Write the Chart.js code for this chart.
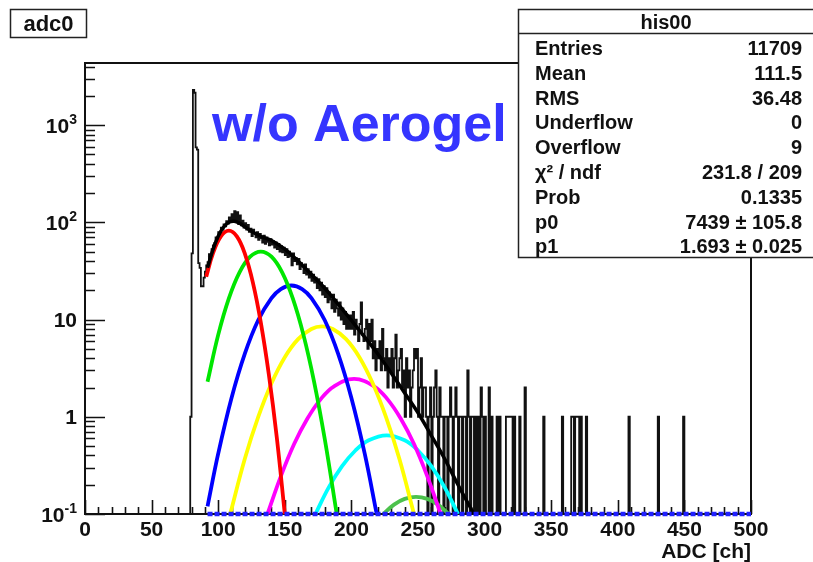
<!DOCTYPE html>
<html>
<head>
<meta charset="utf-8">
<title>adc0</title>
<script src="https://cdn.jsdelivr.net/npm/chart.js@4.4.0/dist/chart.umd.min.js"></script>
<style>
    body { margin: 0; background: #fff; }
    canvas { display: block; }
</style>
</head>
<body>
<canvas id="grafico-adc" width="813" height="562"></canvas>
<script>
// histogram, 1 ADC channel per bin, first bin = 76
const histFirstBin = 76;
const histCounts = [
    0, 0, 0, 0, 1, 48, 2300, 2150, 590, 560, 38, 34, 22, 22,
    27, 31, 36, 39, 47, 44, 53, 58, 61, 70,
    68, 79, 76, 88, 84, 95, 91, 103, 97, 112,
    104, 121, 108, 130, 101, 127, 96, 118, 93, 104,
    88, 98, 84, 94, 80, 86, 72, 84, 77, 70,
    79, 66, 76, 69, 62, 73, 60, 70, 63, 58,
    67, 59, 64, 55, 62, 53, 60, 50, 57, 49,
    55, 46, 53, 44, 50, 45, 36, 48, 40, 43,
    37, 42, 33, 38, 35, 30, 37, 29, 33, 27,
    31, 25, 29, 24, 27, 21, 26, 20, 24, 18,
    22, 17, 21, 15, 19, 16, 13, 18, 12, 16,
    13, 11, 15, 10, 13, 9, 12, 8, 11, 8,
    11, 8, 12, 7, 10, 8, 6, 9, 15, 7,
    6, 8, 10, 5, 9, 6, 10, 4, 6, 3,
    5, 4, 6, 3, 8, 4, 3, 5, 2, 4,
    3, 5, 2, 4, 7, 2, 3, 4, 5, 2,
    3, 1, 4, 2, 3, 1, 2, 3, 5, 4,
    5, 1, 2, 4, 1, 2, 2, 1, 0, 1,
    2, 0, 1, 2, 3, 1, 0, 2, 1, 1,
    0, 1, 1, 0, 1, 2, 1, 0, 1, 2,
    1, 0, 1, 1, 0, 1, 1, 0, 3, 1,
    0, 1, 1, 0, 1, 0, 1, 0, 2, 1
];
// sparse channels above 300
const tailBins = [301, 304, 306, 310, 312, 317, 318, 319, 320, 321, 323, 327, 331, 345, 359, 366, 367, 369, 370, 371, 373, 377, 409, 431, 450];
const tailCounts = [1, 2, 1, 1, 1, 1, 1, 1, 1, 1, 1, 1, 2, 1, 1, 1, 1, 1, 1, 1, 1, 1, 1, 1, 1];

// total fit
const fitX = [92, 96, 100, 104, 108, 112, 116, 120, 125, 130, 135, 140, 150, 160, 170, 180, 190, 200, 210, 220, 230, 240, 250, 260, 270, 280, 292];
const fitY = [34, 52, 72, 89, 100, 102.5, 98, 90, 81, 74, 69, 65, 53, 40, 29, 21, 14.4, 9.8, 6.6, 4.4, 2.8, 1.76, 1.1, 0.64, 0.37, 0.2, 0.1];

// photoelectron components
const redX = [91, 96, 102, 108, 114, 120, 126, 132, 138, 144, 150];
const redY = [27.5, 47.6, 71.6, 82, 71.6, 47.6, 24.1, 9.3, 2.73, 0.61, 0.1];
const greenX = [92, 100, 108, 116, 124, 132, 140, 148, 156, 164, 172, 180, 189];
const greenY = [2.29, 6.95, 16.5, 30.6, 44.3, 50, 44.3, 30.6, 16.5, 6.95, 2.29, 0.59, 0.1];
const blueX = [92, 100, 110, 120, 130, 140, 147, 155, 163, 170, 180, 190, 200, 210, 219];
const blueY = [0.12, 0.417, 1.56, 4.46, 9.83, 16.6, 20.6, 22.4, 20.6, 16.6, 9.83, 4.46, 1.56, 0.417, 0.1];
const yellowX = [109, 120, 130, 140, 150, 160, 170, 178, 186, 196, 206, 216, 226, 236, 247];
const yellowY = [0.1, 0.37, 0.99, 2.21, 4.1, 6.29, 8.0, 8.5, 8.0, 6.29, 4.1, 2.21, 0.99, 0.37, 0.1];
const magentaX = [137, 147, 157, 167, 177, 187, 202, 217, 227, 237, 247, 257, 267];
const magentaY = [0.1, 0.244, 0.524, 0.96, 1.52, 2.06, 2.45, 2.06, 1.52, 0.96, 0.524, 0.244, 0.1];
const cyanX = [173, 183, 193, 203, 213, 226.5, 240, 250, 260, 270, 280];
const cyanY = [0.1, 0.188, 0.31, 0.45, 0.573, 0.645, 0.573, 0.45, 0.31, 0.188, 0.1];
const green2X = [224, 232, 240, 248.5, 257, 265, 273];
const green2Y = [0.1, 0.125, 0.143, 0.15, 0.143, 0.125, 0.1];
const floorX = [92, 500];
const floorY = [0.1, 0.1];

// axes
const xMin = 0, xMax = 500;
const yMin = 0.1, yMax = 4350;
const xTickLabels = ['0', '50', '100', '150', '200', '250', '300', '350', '400', '450', '500'];
const yTickValues = [0.1, 1, 10, 100, 1000];
const yTickLabels = [['10', '-1'], ['1', ''], ['10', ''], ['10', '2'], ['10', '3']];

const statsLabels = ['Entries', 'Mean', 'RMS', 'Underflow', 'Overflow', 'χ² / ndf', 'Prob', 'p0', 'p1'];
const statsValues = ['11709', '111.5', '36.48', '0', '9', '231.8 / 209', '0.1335', '7439 ± 105.8', '1.693 ± 0.025'];

const FONT = '"Liberation Sans", Arial, Helvetica, sans-serif';

function xy(xs, ys) {
    return xs.map((x, i) => ({ x: x, y: ys[i] }));
}

function histPoints() {
    var counts = new Array(xMax).fill(0);
    histCounts.forEach((c, i) => { counts[histFirstBin + i] = c; });
    tailBins.forEach((b, i) => { counts[b] = tailCounts[i]; });
    var pts = [];
    for (var b = 0; b < xMax; b++) {
        // empty bins drop to the frame bottom, like ROOT does
        pts.push({ x: b, y: counts[b] > 0 ? counts[b] : yMin });
    }
    pts.push({ x: xMax, y: pts[pts.length - 1].y });
    return pts;
}

function curve(xs, ys, color, order) {
    return {
        data: xy(xs, ys),
        borderColor: color,
        borderWidth: 3.8,
        pointRadius: 0,
        tension: 0.4,
        fill: false,
        clip: { left: 0, top: 0, right: 0, bottom: 2 },
        order: order
    };
}

const frame = {
    id: 'rootFrame',
    // frame and ticks go under the data, like in the ROOT canvas
    beforeDatasetsDraw(chart) {
        const ctx = chart.ctx;
        const a = chart.chartArea;
        const sx = chart.scales.x;
        const sy = chart.scales.y;
        ctx.save();
        ctx.strokeStyle = '#111';
        ctx.lineWidth = 2;
        ctx.strokeRect(a.left, a.top, a.right - a.left, a.bottom - a.top);

        // y ticks: decades and 2..9 minors
        ctx.lineWidth = 1.6;
        ctx.beginPath();
        for (var e = -1; e <= 3; e++) {
            for (var k = 1; k <= 9; k++) {
                var v = k * Math.pow(10, e);
                if (v < yMin || v > yMax) continue;
                var py = Math.round(sy.getPixelForValue(v)) + 0.5;
                ctx.moveTo(a.left, py);
                ctx.lineTo(a.left + (k === 1 ? 20 : 10), py);
            }
        }
        // x ticks every 10, labelled every 50
        for (var t = xMin; t <= xMax; t += 10) {
            var px = Math.round(sx.getPixelForValue(t)) + 0.5;
            ctx.moveTo(px, a.bottom);
            ctx.lineTo(px, a.bottom - (t % 50 === 0 ? 14 : 7));
        }
        ctx.stroke();

        ctx.fillStyle = '#111';
        ctx.font = 'bold 21px ' + FONT;
        ctx.textAlign = 'center';
        ctx.textBaseline = 'alphabetic';
        xTickLabels.forEach((lab, i) => {
            ctx.fillText(lab, sx.getPixelForValue(xMin + i * 50), 536);
        });
        ctx.textAlign = 'right';
        ctx.fillText('ADC [ch]', 751, 558);

        yTickValues.forEach((v, i) => {
            var py = sy.getPixelForValue(v);
            var base = yTickLabels[i][0];
            var sup = yTickLabels[i][1];
            var right = 77;
            if (sup) {
                ctx.font = 'bold 14px ' + FONT;
                ctx.textAlign = 'right';
                ctx.fillText(sup, right, py - 1);
                right -= ctx.measureText(sup).width;
            }
            ctx.font = 'bold 21px ' + FONT;
            ctx.textAlign = 'right';
            ctx.fillText(base, right, py + 7.5);
        });
        ctx.restore();
    },
    afterDraw(chart) {
        const ctx = chart.ctx;
        ctx.save();
        // label on the pad
        ctx.fillStyle = '#3535ff';
        ctx.font = 'bold 52px ' + FONT;
        ctx.textAlign = 'left';
        ctx.textBaseline = 'alphabetic';
        ctx.fillText('w/o Aerogel', 212, 141);

        // title box
        ctx.fillStyle = '#fff';
        ctx.fillRect(10, 9, 77, 29);
        ctx.strokeStyle = '#222';
        ctx.lineWidth = 1.5;
        ctx.strokeRect(10.5, 9.5, 76, 28);
        ctx.fillStyle = '#111';
        ctx.font = 'bold 22px ' + FONT;
        ctx.textAlign = 'center';
        ctx.fillText('adc0', 48.5, 31);

        // stats box
        ctx.fillStyle = '#fff';
        ctx.fillRect(518, 9, 300, 249);
        ctx.strokeStyle = '#222';
        ctx.lineWidth = 1.5;
        ctx.strokeRect(518.5, 9.5, 310, 248);
        ctx.beginPath();
        ctx.moveTo(518, 33.5);
        ctx.lineTo(813, 33.5);
        ctx.stroke();
        ctx.fillStyle = '#111';
        ctx.font = 'bold 20px ' + FONT;
        ctx.textAlign = 'center';
        ctx.fillText('his00', 666, 29);
        statsLabels.forEach((lab, i) => {
            var by = 55 + i * 24.8;
            ctx.textAlign = 'left';
            ctx.fillText(lab, 535, by);
            ctx.textAlign = 'right';
            ctx.fillText(statsValues[i], 802, by);
        });
        ctx.restore();
    }
};

const ctx = document.getElementById('grafico-adc').getContext('2d');
var chart = new Chart(ctx, {
    type: 'line',
    data: {
        datasets: [
            {
                data: histPoints(),
                borderColor: '#111',
                borderWidth: 1.8,
                pointRadius: 0,
                stepped: 'after',
                fill: false,
                clip: { left: 0, top: 0, right: 0, bottom: 1 },
                order: 10
            },
            {
                data: xy(fitX, fitY),
                borderColor: '#000',
                borderWidth: 3.5,
                pointRadius: 0,
                tension: 0.4,
                fill: false,
                clip: { left: 0, top: 0, right: 0, bottom: 2 },
                order: 4
            },
            curve(redX, redY, '#ff0000', 6),
            curve(greenX, greenY, '#00e600', 6),
            curve(blueX, blueY, '#0000ff', 6),
            curve(yellowX, yellowY, '#ffff00', 6),
            curve(magentaX, magentaY, '#ff00ff', 6),
            curve(cyanX, cyanY, '#00ffff', 6),
            curve(green2X, green2Y, '#4cc24c', 6),
            {
                data: xy(floorX, floorY),
                borderColor: '#2020ff',
                borderWidth: 4.5,
                borderDash: [5, 2],
                pointRadius: 0,
                fill: false,
                clip: false,
                order: 1
            }
        ]
    },
    options: {
        responsive: false,
        animation: false,
        layout: { padding: { left: 85, top: 63, right: 62, bottom: 48 } },
        plugins: {
            legend: { display: false },
            tooltip: { enabled: false }
        },
        scales: {
            x: { type: 'linear', min: xMin, max: xMax, display: false },
            y: { type: 'logarithmic', min: yMin, max: yMax, display: false }
        }
    },
    plugins: [frame]
});
</script>
</body>
</html>
